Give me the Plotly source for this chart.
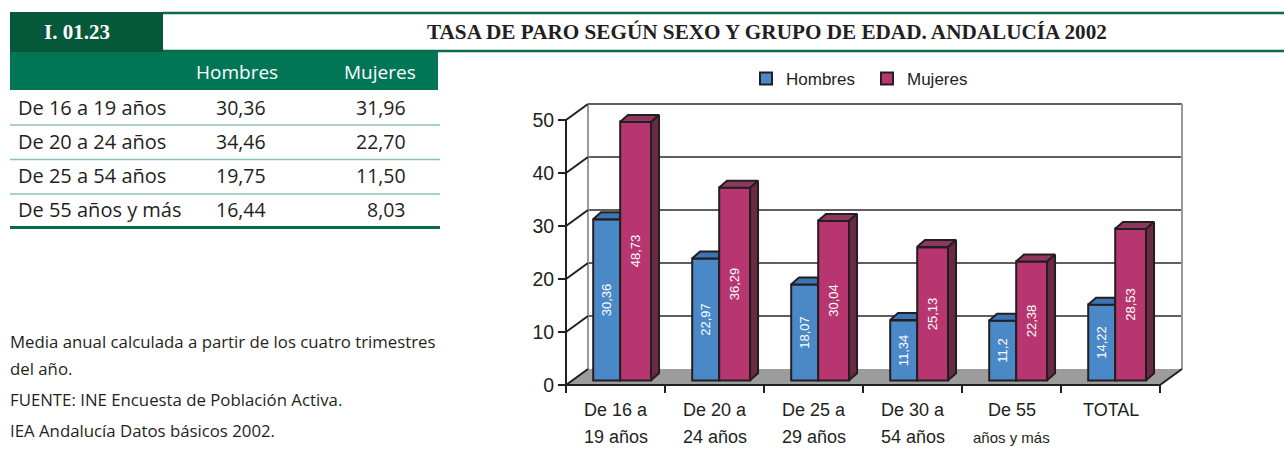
import plotly.graph_objects as go

# ---------------- data ----------------
cat_line1 = ["De 16 a", "De 20 a", "De 25 a", "De 30 a", "De 55", "TOTAL"]
cat_line2 = ["19 años", "24 años", "29 años", "54 años", "años y más", ""]
hombres = [30.36, 22.97, 18.07, 11.34, 11.2, 14.22]
mujeres = [48.73, 36.29, 30.04, 25.13, 22.38, 28.53]
y_ticks = [0, 10, 20, 30, 40, 50]

table_rows = ["De 16 a 19 años", "De 20 a 24 años", "De 25 a 54 años", "De 55 años y más"]
table_hombres = [30.36, 34.46, 19.75, 16.44]
table_mujeres = [31.96, 22.70, 11.50, 8.03]
table_cols = ["Hombres", "Mujeres"]

code_label = "I. 01.23"
title_text = "TASA DE PARO SEGÚN SEXO Y GRUPO DE EDAD. ANDALUCÍA 2002"
notes = ["Media anual calculada a partir de los cuatro trimestres",
         "del año.",
         "FUENTE: INE Encuesta de Población Activa.",
         "IEA Andalucía Datos básicos 2002."]

# ---------------- style ----------------
W, H = 1284, 457
BLUE, BLUE_TOP = "#4a88c8", "#3d74b3"
MAG, MAG_TOP, MAG_SIDE = "#b8366f", "#8e3760", "#6a2944"
EDGE = "#231f20"
FLOOR = "#9c9c9c"
GREEN_DARK, GREEN_HEAD, GREEN_LINE, GREEN_LIGHT = "#06583a", "#007657", "#0b6b47", "#8cc3ae"
TXT = "#231f20"
SANS = "Liberation Sans, Arial, sans-serif"
HUMAN = "Open Sans, Lato, sans-serif"
SERIF = "Liberation Serif, Times New Roman, serif"

# pixel mapping of plot area
X_PX0, PXX = 566.0, 99.0      # pixel of x=-0.5, px per category
Y_PX0, PXY = 385.0, 5.3       # pixel of y=0, px per unit
XR = [-0.7, 5.9]
YR = [-1.8, 55.0]
WDX, WDY = 22 / PXX, 16 / PXY     # back-wall depth offset
BDX, BDY = 8 / PXX, 7 / PXY       # bar depth
BAR_BASE = 4.8 / PXY              # bar front plane above front floor edge
GROUP_LEFT, BLUE_W, MAG_W = -0.227, 0.272, 0.314
N = len(hombres)
XMIN, XMAX = -0.5, N - 0.5
YTOP = max(y_ticks)


def px_x(x):
    return X_PX0 + (x + 0.5) * PXX


def px_y(y):
    return Y_PX0 - y * PXY


def fx(p):
    return p / W


def fy(p):
    return 1 - p / H


def num(v):
    s = ("%.2f" % v).rstrip("0")
    if s.endswith("."):
        s = s[:-1]
    return s.replace(".", ",")


fig = go.Figure()

# front faces of bars
xb = [i + GROUP_LEFT + BLUE_W / 2 for i in range(N)]
xm = [i + GROUP_LEFT + BLUE_W + MAG_W / 2 for i in range(N)]
fig.add_trace(go.Bar(x=xb, y=hombres, base=[BAR_BASE] * N, width=BLUE_W, name="Hombres",
                     marker=dict(color=BLUE, line=dict(color=EDGE, width=2)),
                     text=[num(v) for v in hombres], textposition="inside", insidetextanchor="middle",
                     textangle=-90, textfont=dict(color="white", size=13, family=SANS),
                     hoverinfo="skip"))
fig.add_trace(go.Bar(x=xm, y=mujeres, base=[BAR_BASE] * N, width=MAG_W, name="Mujeres",
                     marker=dict(color=MAG, line=dict(color=EDGE, width=2)),
                     text=[num(v) for v in mujeres], textposition="inside", insidetextanchor="middle",
                     textangle=-90, textfont=dict(color="white", size=13, family=SANS),
                     hoverinfo="skip"))

# 3D faces (tops and sides)
bt_x, bt_y, mt_x, mt_y, ms_x, ms_y = [], [], [], [], [], []
for i in range(N):
    x0 = xb[i] - BLUE_W / 2
    x1 = xb[i] + BLUE_W / 2
    t = BAR_BASE + hombres[i]
    bt_x += [x0, x1, x1, x0 + BDX, x0, None]
    bt_y += [t, t, t + BDY, t + BDY, t, None]
    m0 = xm[i] - MAG_W / 2
    m1 = xm[i] + MAG_W / 2
    tm = BAR_BASE + mujeres[i]
    mt_x += [m0, m1, m1 + BDX, m0 + BDX, m0, None]
    mt_y += [tm, tm, tm + BDY, tm + BDY, tm, None]
    ms_x += [m1, m1, m1 + BDX, m1 + BDX, m1, None]
    ms_y += [BAR_BASE, tm, tm + BDY, BAR_BASE + BDY, BAR_BASE, None]
for xs, ys, col in [(bt_x, bt_y, BLUE_TOP), (mt_x, mt_y, MAG_TOP), (ms_x, ms_y, MAG_SIDE)]:
    fig.add_trace(go.Scatter(x=xs, y=ys, mode="lines", fill="toself", fillcolor=col,
                             line=dict(color=EDGE, width=2), showlegend=False, hoverinfo="skip"))

shapes = []
# floor
shapes.append(dict(type="path", xref="x", yref="y", layer="below",
                   path=f"M{XMIN},0 L{XMAX},0 L{XMAX + WDX},{WDY} L{XMIN + WDX},{WDY} Z",
                   fillcolor=FLOOR, line=dict(width=0)))
# back wall gridlines
for v in y_ticks[1:]:
    shapes.append(dict(type="line", xref="x", yref="y", layer="below",
                       x0=XMIN + WDX, x1=XMAX + WDX, y0=v + WDY, y1=v + WDY,
                       line=dict(color="#2a2a2a", width=1.6)))
# back wall side edges (gray)
for xe in (XMIN + WDX, XMAX + WDX):
    shapes.append(dict(type="line", xref="x", yref="y", layer="below",
                       x0=xe, x1=xe, y0=WDY, y1=YTOP + WDY, line=dict(color="#9a9a9a", width=2)))
# diagonals from the front axis
for v in y_ticks:
    shapes.append(dict(type="line", xref="x", yref="y", layer="below",
                       x0=XMIN, x1=XMIN + WDX, y0=v, y1=v + WDY, line=dict(color=EDGE, width=2)))
shapes.append(dict(type="line", xref="x", yref="y", layer="below",
                   x0=XMAX, x1=XMAX + WDX, y0=0, y1=WDY, line=dict(color=EDGE, width=2)))
# front axes
shapes.append(dict(type="line", xref="x", yref="y", x0=XMIN, x1=XMIN, y0=0, y1=YTOP,
                   line=dict(color=EDGE, width=2), layer="below"))
shapes.append(dict(type="line", xref="x", yref="y", x0=XMIN, x1=XMAX, y0=0, y1=0,
                   line=dict(color=EDGE, width=2), layer="below"))
# category boundary ticks
for i in range(N + 1):
    shapes.append(dict(type="line", xref="x", yref="y", x0=i - 0.5, x1=i - 0.5, y0=0, y1=-8 / PXY,
                       line=dict(color=EDGE, width=2)))


# ---- header & table (paper coords) ----
def prect(x0, y0, x1, y1, color):
    return dict(type="rect", xref="paper", yref="paper", x0=fx(x0), x1=fx(x1), y0=fy(y1), y1=fy(y0),
                fillcolor=color, line=dict(width=0), layer="below")


def pline(x0, y0, x1, y1, color, width):
    return dict(type="line", xref="paper", yref="paper", x0=fx(x0), x1=fx(x1), y0=fy(y0), y1=fy(y1),
                line=dict(color=color, width=width))


shapes.append(prect(10, 12, 163, 52, GREEN_DARK))
shapes.append(pline(163, 13, W, 13, GREEN_LINE, 2.5))
shapes.append(pline(163, 51, W, 51, GREEN_LINE, 2.5))
shapes.append(prect(10, 52, 438, 90, GREEN_HEAD))
row_y = [107, 141, 176, 210]
for k in range(len(table_rows) - 1):
    ly = (row_y[k] + row_y[k + 1]) / 2 + 1
    shapes.append(pline(10, ly, 440, ly, GREEN_LIGHT, 1.6))
shapes.append(pline(10, 227.5, 440, 227.5, GREEN_LINE, 2.8))


def pann(text, x, y, size, family, color, xanchor="center"):
    return dict(text=text, x=fx(x), y=fy(y), xref="paper", yref="paper", xanchor=xanchor,
                yanchor="middle", showarrow=False, font=dict(family=family, size=size, color=color))


ann = []
ann.append(pann(f"<b>{code_label}</b>", 77, 32, 21, SERIF, "white"))
ann.append(pann(f"<b>{title_text}</b>", 767, 32, 21.2, SERIF, TXT))
for name, cx in zip(table_cols, [237, 380]):
    ann.append(pann(name, cx, 72, 19, HUMAN, "white"))
tf = lambda v: ("%.2f" % v).replace(".", ",")
for k, lab in enumerate(table_rows):
    ann.append(pann(lab, 16, row_y[k], 20, HUMAN, TXT, "left"))
    ann.append(pann(tf(table_hombres[k]), 268, row_y[k], 19.5, HUMAN, TXT, "right"))
    ann.append(pann(tf(table_mujeres[k]), 408, row_y[k], 19.5, HUMAN, TXT, "right"))
for line, ny in zip(notes, [341, 368, 399, 430]):
    ann.append(pann(line, 8, ny, 16.8, HUMAN, TXT, "left"))
# category labels
for i in range(N):
    ann.append(dict(text=cat_line1[i], x=i, y=0, xref="x", yref="y", yshift=-25, yanchor="middle",
                    xanchor="center", showarrow=False, font=dict(family=SANS, size=18, color=TXT)))
    small = cat_line2[i].count(" ") > 1
    ann.append(dict(text=cat_line2[i], x=i, y=0, xref="x", yref="y", yshift=-52, yanchor="middle",
                    xanchor="center", showarrow=False,
                    font=dict(family=SANS, size=15 if small else 18, color=TXT)))

x_dom = [fx(px_x(XR[0])), fx(px_x(XR[1]))]
y_dom = [fy(px_y(YR[0])), fy(px_y(YR[1]))]

fig.update_layout(
    width=W, height=H, autosize=False,
    margin=dict(l=0, r=0, t=0, b=0),
    paper_bgcolor="white", plot_bgcolor="rgba(0,0,0,0)",
    barmode="overlay", bargap=0,
    shapes=shapes, annotations=ann,
    showlegend=True,
    legend=dict(orientation="h", x=fx(746), y=fy(79), xanchor="left", yanchor="middle",
                font=dict(family=SANS, size=17, color=TXT), bgcolor="rgba(0,0,0,0)",
                traceorder="normal", entrywidth=76),
    xaxis=dict(domain=x_dom, range=XR, showgrid=False, zeroline=False, showticklabels=False,
               ticks="", showline=False, fixedrange=True),
    yaxis=dict(domain=y_dom, range=YR, anchor="free", position=fx(px_x(XMIN)),
               tickvals=y_ticks, ticktext=[str(v) for v in y_ticks], ticks="outside", ticklen=8,
               tickwidth=2, tickcolor=EDGE, showgrid=False, zeroline=False, showline=False,
               tickfont=dict(family=SANS, size=19.5, color=TXT), fixedrange=True),
)

fig.write_html("out.html", config={"displayModeBar": False},
               post_script="document.body.style.margin='0';document.body.style.overflow='hidden';")
